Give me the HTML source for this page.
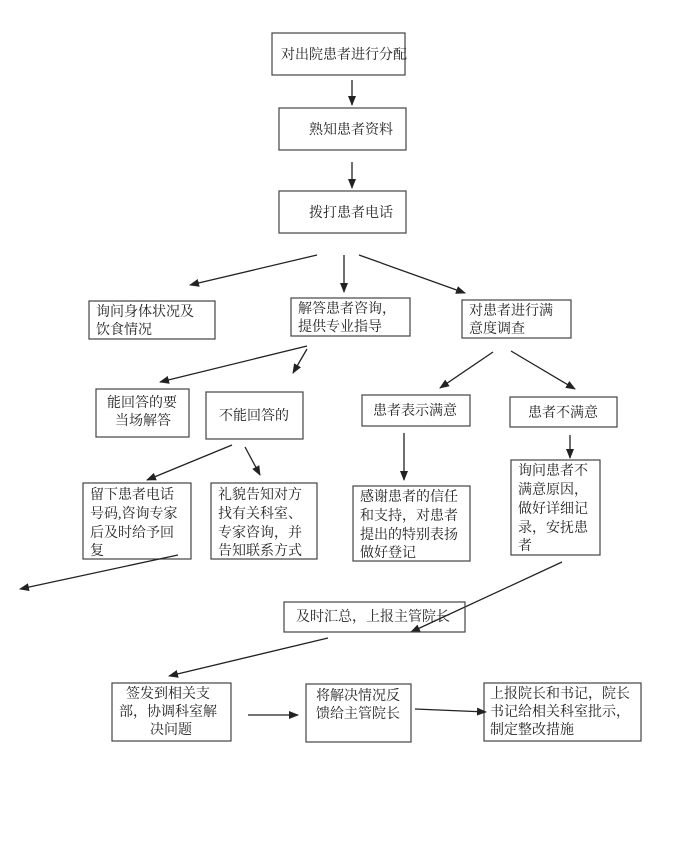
<!DOCTYPE html>
<html><head><meta charset="utf-8"><style>
html,body{margin:0;padding:0;background:#fff;}
svg{display:block;}
text{font-family:"Liberation Serif","Noto Serif CJK SC","Noto Sans CJK SC",serif;font-size:14px;fill:#222;}
rect{fill:none;stroke:#444;stroke-width:1.2;}
line{stroke:#222;stroke-width:1.3;marker-end:url(#a);}
</style></head><body>
<svg width="700" height="859" viewBox="0 0 700 859" xmlns="http://www.w3.org/2000/svg">
<defs><marker id="a" markerWidth="10" markerHeight="8" refX="9" refY="4" orient="auto" markerUnits="userSpaceOnUse"><path d="M0,0 L10,4 L0,8 z" fill="#222"/></marker></defs>

<rect x="272" y="33" width="133" height="42"/><text x="281" y="59">对出院患者进行分配</text>
<line x1="352" y1="80" x2="352" y2="105"/>
<rect x="279" y="108" width="127" height="42"/><text x="309" y="134">熟知患者资料</text>
<line x1="352" y1="162" x2="352" y2="188"/>
<rect x="279" y="191" width="127" height="42"/><text x="309" y="217">拨打患者电话</text>

<line x1="317" y1="255" x2="190" y2="285"/>
<line x1="344" y1="255" x2="344" y2="292"/>
<line x1="359" y1="255" x2="465" y2="293"/>

<rect x="89" y="301" width="126" height="38"/><text x="96" y="316">询问身体状况及</text><text x="96" y="334">饮食情况</text>
<rect x="291" y="298" width="119" height="38"/><text x="298" y="313">解答患者咨询，</text><text x="298" y="331">提供专业指导</text>
<rect x="462" y="300" width="109" height="38"/><text x="469" y="315">对患者进行满</text><text x="469" y="333">意度调查</text>

<line x1="307" y1="346" x2="160" y2="382"/>
<line x1="307" y1="349" x2="293" y2="373"/>
<line x1="493" y1="352" x2="440" y2="388"/>
<line x1="511" y1="351" x2="575" y2="389"/>

<rect x="96" y="389" width="93" height="48"/><text x="107" y="407">能回答的要</text><text x="115" y="425">当场解答</text>
<rect x="206" y="392" width="97" height="47"/><text x="219" y="420">不能回答的</text>
<rect x="362" y="395" width="108" height="31"/><text x="373" y="415">患者表示满意</text>
<rect x="510" y="397" width="107" height="30"/><text x="528" y="417">患者不满意</text>

<line x1="232" y1="445" x2="147" y2="480"/>
<line x1="245" y1="447" x2="260" y2="475"/>
<line x1="404" y1="433" x2="404" y2="480"/>
<line x1="570" y1="435" x2="570" y2="458"/>

<rect x="83" y="483" width="108" height="76"/><text x="90" y="499">留下患者电话</text><text x="90" y="518">号码,咨询专家</text><text x="90" y="537">后及时给予回</text><text x="90" y="555">复</text>
<rect x="211" y="483" width="106" height="76"/><text x="218" y="499">礼貌告知对方</text><text x="218" y="518">找有关科室、</text><text x="218" y="537">专家咨询，并</text><text x="218" y="555">告知联系方式</text>
<rect x="353" y="486" width="117" height="75"/><text x="360" y="501">感谢患者的信任</text><text x="360" y="520">和支持，对患者</text><text x="360" y="539">提出的特别表扬</text><text x="360" y="557">做好登记</text>
<rect x="511" y="460" width="89" height="95"/><text x="518" y="475">询问患者不</text><text x="518" y="494">满意原因，</text><text x="518" y="513">做好详细记</text><text x="518" y="532">录，安抚患</text><text x="518" y="550">者</text>

<line x1="178" y1="555" x2="20" y2="589"/>
<line x1="562" y1="562" x2="411" y2="632"/>

<rect x="284" y="602" width="181" height="30"/><text x="296" y="621">及时汇总，上报主管院长</text>

<line x1="328" y1="638" x2="169" y2="676"/>

<rect x="112" y="683" width="119" height="58"/><text x="126" y="698">签发到相关支</text><text x="119" y="716">部，协调科室解</text><text x="150" y="734">决问题</text>
<rect x="306" y="684" width="105" height="58"/><text x="316" y="700">将解决情况反</text><text x="316" y="718">馈给主管院长</text>
<rect x="484" y="683" width="157" height="58"/><text x="490" y="698">上报院长和书记，院长</text><text x="490" y="716">书记给相关科室批示，</text><text x="490" y="734">制定整改措施</text>

<line x1="248" y1="715" x2="298" y2="715"/>
<line x1="415" y1="709" x2="486" y2="712"/>
</svg>
</body></html>
